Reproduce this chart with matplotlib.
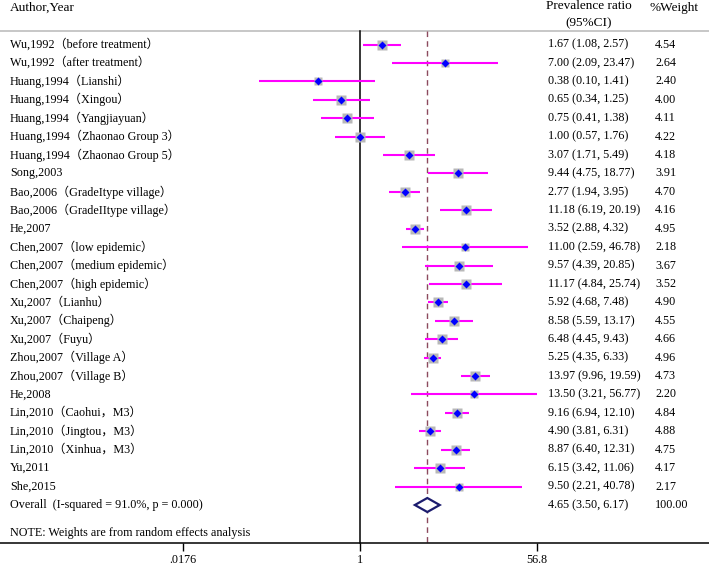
import numpy as np
import matplotlib
matplotlib.use("Agg")
import matplotlib.pyplot as plt
from matplotlib.patches import Polygon

labels = [
    "Wu,1992（before treatment）",
    "Wu,1992（after treatment）",
    "Huang,1994（Lianshi）",
    "Huang,1994（Xingou）",
    "Huang,1994（Yangjiayuan）",
    "Huang,1994（Zhaonao Group 3）",
    "Huang,1994（Zhaonao Group 5）",
    "Song,2003",
    "Bao,2006（GradeItype village）",
    "Bao,2006（GradeIItype village）",
    "He,2007",
    "Chen,2007（low epidemic）",
    "Chen,2007（medium epidemic）",
    "Chen,2007（high epidemic）",
    "Xu,2007（Lianhu）",
    "Xu,2007（Chaipeng）",
    "Xu,2007（Fuyu）",
    "Zhou,2007（Village A）",
    "Zhou,2007（Village B）",
    "He,2008",
    "Lin,2010（Caohui，M3）",
    "Lin,2010（Jingtou，M3）",
    "Lin,2010（Xinhua，M3）",
    "Yu,2011",
    "She,2015",
]
est = [1.67, 7.00, 0.38, 0.65, 0.75, 1.00, 3.07, 9.44, 2.77, 11.18, 3.52, 11.00, 9.57,
       11.17, 5.92, 8.58, 6.48, 5.25, 13.97, 13.50, 9.16, 4.90, 8.87, 6.15, 9.50]
lo = [1.08, 2.09, 0.10, 0.34, 0.41, 0.57, 1.71, 4.75, 1.94, 6.19, 2.88, 2.59, 4.39,
      4.84, 4.68, 5.59, 4.45, 4.35, 9.96, 3.21, 6.94, 3.81, 6.40, 3.42, 2.21]
hi = [2.57, 23.47, 1.41, 1.25, 1.38, 1.76, 5.49, 18.77, 3.95, 20.19, 4.32, 46.78, 20.85,
      25.74, 7.48, 13.17, 9.43, 6.33, 19.59, 56.77, 12.10, 6.31, 12.31, 11.06, 40.78]
weights = [4.54, 2.64, 2.40, 4.00, 4.11, 4.22, 4.18, 3.91, 4.70, 4.16, 4.95, 2.18, 3.67,
           3.52, 4.90, 4.55, 4.66, 4.96, 4.73, 2.20, 4.84, 4.88, 4.75, 4.17, 2.17]
overall_label = "Overall  (I-squared = 91.0%, p = 0.000)"
overall = (4.65, 3.50, 6.17)
overall_weight = "100.00"
tick_vals = [0.0176, 1, 56.8]
tick_labels = [".0176", "1", "56.8"]

W, H = 709, 568
fig = plt.figure(figsize=(W / 100, H / 100), dpi=100)
ax = fig.add_axes([0, 0, 1, 1])
ax.set_xscale("log")

# pixel geometry
px_per_ln = 43.8
x0px = 360.0
ax.set_xlim(np.exp((0 - x0px) / px_per_ln), np.exp((W - x0px) / px_per_ln))
row0, rowstep = 44.5, 18.42
def prow(p):
    return (p - row0) / rowstep
ax.set_ylim(prow(H), prow(0))

serif = ["Liberation Serif", "Noto Sans CJK SC"]
fs = 8.7
hfs = 9.5
yt = ax.get_yaxis_transform()

n = len(labels)
rows = np.arange(n)
top = prow(31)
axis_y = prow(543)

# header
ax.text(10 / W, prow(8), "Author,Year", transform=yt, family=serif, fontsize=hfs, va="center", ha="left")
ax.text(589 / W, prow(6), "Prevalence ratio", transform=yt, family=serif, fontsize=hfs, va="center", ha="center")
ax.text(589 / W, prow(23), "(95%CI)", transform=yt, family=serif, fontsize=hfs, va="center", ha="center")
ax.text(650 / W, prow(8), "%Weight", transform=yt, family=serif, fontsize=hfs, va="center", ha="left")
ax.axhline(top, color="#bdbdbd", lw=1.2)

# reference lines
ax.plot([1, 1], [top, axis_y], color="black", lw=1.1, zorder=2)
ax.plot([overall[0]] * 2, [top, axis_y], color="#8c4a5e", lw=1.0, dashes=(4, 3), zorder=2)

# studies
for i in range(n):
    ax.plot([lo[i], hi[i]], [rows[i], rows[i]], color="#ff00ff", lw=1.5, zorder=3, solid_capstyle="butt")
    ax.plot(est[i], rows[i], marker="s", ms=3.55 * np.sqrt(weights[i]), color="#b8b8b8", mec="none", zorder=4)
    ax.plot(est[i], rows[i], marker="D", ms=3.6, color="#0000ff", mec="none", zorder=5)
    ax.text(10 / W, rows[i], labels[i], transform=yt, family=serif, fontsize=fs, va="center", ha="left")
    ax.text(548 / W, rows[i], f"{est[i]:.2f} ({lo[i]:.2f}, {hi[i]:.2f})", transform=yt,
            family=serif, fontsize=fs, va="center", ha="left")
    ax.text(655 / W, rows[i], f"{weights[i]:.2f}", transform=yt, family=serif, fontsize=fs,
            va="center", ha="left")

# overall diamond
oy = n
h = 7 / rowstep
diamond = Polygon([[overall[1], oy], [overall[0], oy - h], [overall[2], oy], [overall[0], oy + h]],
                  closed=True, facecolor="white", edgecolor="#1c1c6e", lw=1.6, zorder=5)
ax.add_patch(diamond)
ax.text(10 / W, oy, overall_label, transform=yt, family=serif, fontsize=fs, va="center", ha="left")
ax.text(548 / W, oy, f"{overall[0]:.2f} ({overall[1]:.2f}, {overall[2]:.2f})", transform=yt,
        family=serif, fontsize=fs, va="center", ha="left")
ax.text(655 / W, oy, overall_weight, transform=yt, family=serif, fontsize=fs, va="center", ha="left")
ax.text(10 / W, prow(533), "NOTE: Weights are from random effects analysis", transform=yt,
        family=serif, fontsize=fs, va="center", ha="left")

# x axis
for s in ["top", "left", "right"]:
    ax.spines[s].set_visible(False)
ax.spines["bottom"].set_position(("data", axis_y))
ax.spines["bottom"].set_linewidth(1.1)
ax.set_xticks(tick_vals)
ax.set_xticklabels(tick_labels, family=serif, fontsize=fs)
ax.xaxis.set_minor_locator(matplotlib.ticker.NullLocator())
ax.tick_params(axis="x", direction="out", length=5.8, width=1.0, pad=2.2)
ax.set_yticks([])

fig.savefig("out.png", dpi=100)
